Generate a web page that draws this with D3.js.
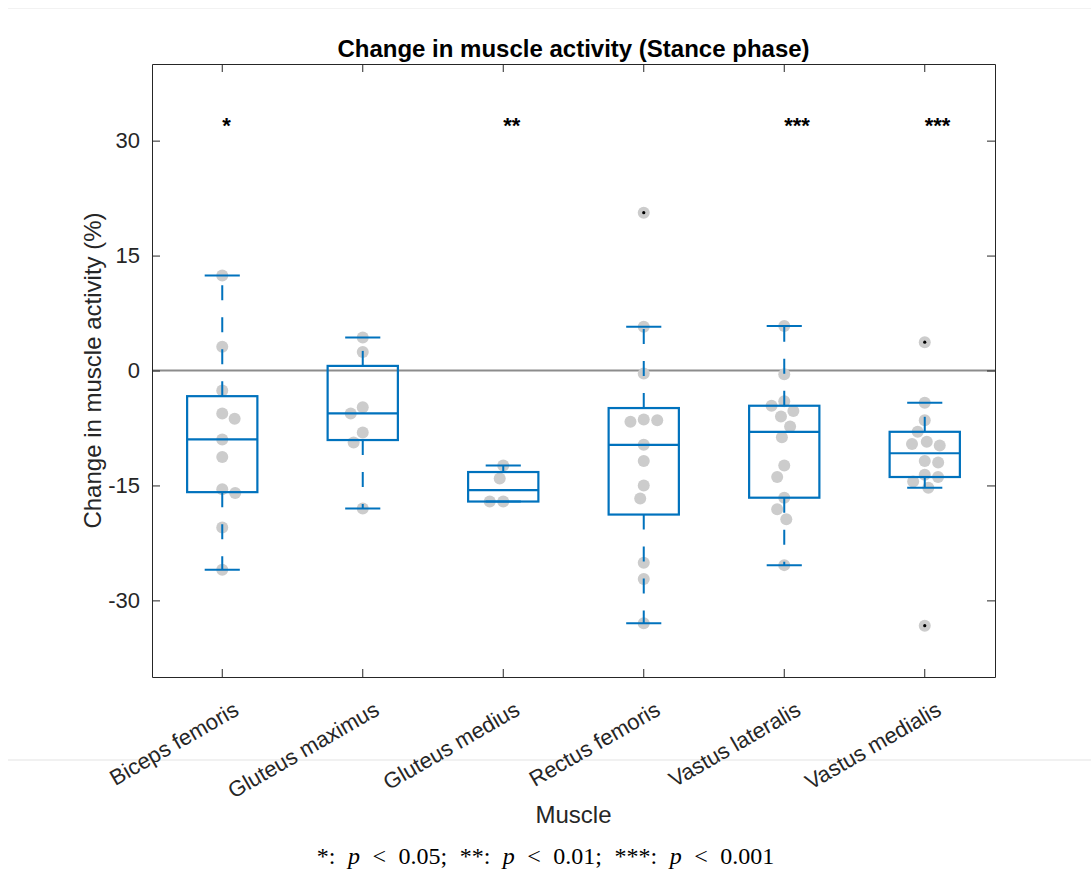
<!DOCTYPE html>
<meta charset="utf-8">
<script src="https://cdn.jsdelivr.net/npm/d3@7"></script>
<style>
  body { margin: 0; background: #fff; }
</style>
<div id="chart"></div>
<script>

// muscles and per-subject changes (%)
var muscles = ["Biceps femoris", "Gluteus maximus", "Gluteus medius", "Rectus femoris", "Vastus lateralis", "Vastus medialis"]
var bicepsFemoris = [12.4, 3.1, -2.6, -5.6, -6.3, -9.0, -11.3, -15.5, -16.0, -20.5, -26.0]
var gluteusMaximus = [4.3, 2.4, -4.8, -5.6, -8.1, -9.4, -18.0]
var gluteusMedius = [-12.4, -14.1, -17.1, -17.1]
var rectusFemoris = [20.6, 5.7, -0.4, -6.4, -6.5, -6.7, -9.7, -11.8, -15.0, -16.7, -25.1, -27.2, -33.0]
var vastusLateralis = [5.8, -0.5, -4.0, -4.6, -5.3, -6.0, -7.3, -8.7, -12.4, -13.9, -16.6, -18.1, -19.4, -25.4]
var vastusMedialis = [3.7, -4.2, -6.5, -8.0, -9.3, -9.6, -9.8, -11.8, -12.0, -13.6, -13.9, -14.5, -15.3, -33.3]
var significance = ["*", "", "**", "", "***", "***"]
var yTicks = [-30, -15, 0, 15, 30]

var groups = [bicepsFemoris, gluteusMaximus, gluteusMedius, rectusFemoris, vastusLateralis, vastusMedialis]

var width = 1091
var height = 896
var margin = {left: 152, right: 96, top: 64, bottom: 219}
var blue = "#0072BD"
var axisColor = "#262626"

var svg = d3.select("#chart").append("svg")
    .attr("width", width).attr("height", height)
    .style("font-family", "'Liberation Sans', Arial, sans-serif")

svg.append("rect").attr("width", width).attr("height", height).attr("fill", "white")

// faint page separators seen in the picture
svg.append("line").attr("x1", 8).attr("x2", width).attr("y1", 760).attr("y2", 760)
    .attr("stroke", "#e3e3e3").attr("stroke-width", 1)
svg.append("line").attr("x1", 8).attr("x2", width).attr("y1", 8.5).attr("y2", 8.5)
    .attr("stroke", "#f2f2f2").attr("stroke-width", 1)

var x = d3.scaleBand().domain(muscles).range([margin.left, width - margin.right]).padding(0)
var y = d3.scaleLinear().domain([-40, 40]).range([height - margin.bottom, margin.top])
var bw = x.bandwidth()
var cx = function(m){ return x(m) + bw / 2 }

// MATLAB style percentile
function prctile(sorted, p){
  var n = sorted.length
  var i = p * n + 0.5
  if (i <= 1) return sorted[0]
  if (i >= n) return sorted[n - 1]
  var lo = Math.floor(i)
  return sorted[lo - 1] + (i - lo) * (sorted[lo] - sorted[lo - 1])
}

var stats = groups.map(function(vals, gi){
  var s = vals.slice().sort(d3.ascending)
  var q1 = prctile(s, 0.25), q3 = prctile(s, 0.75), med = prctile(s, 0.5)
  var iqr = q3 - q1
  var inside = s.filter(function(v){ return v >= q1 - 1.5 * iqr && v <= q3 + 1.5 * iqr })
  return {muscle: muscles[gi], q1: q1, q3: q3, med: med,
          lo: d3.min(inside), hi: d3.max(inside),
          outliers: s.filter(function(v){ return v < q1 - 1.5 * iqr || v > q3 + 1.5 * iqr })}
})

// simple swarm: smallest horizontal offset that avoids earlier dots
var minDist = 13.5
var dots = []
groups.forEach(function(vals, gi){
  var placed = []
  vals.forEach(function(v, k){
    var py = y(v)
    var cands = [0]
    placed.forEach(function(p){
      var dy = Math.abs(p.py - py)
      if (dy < minDist) {
        var dx = Math.sqrt(minDist * minDist - dy * dy)
        cands.push(p.off + dx, p.off - dx)
      }
    })
    var ok = cands.filter(function(c){
      return placed.every(function(p){
        return Math.hypot(p.off - c, p.py - py) >= minDist - 0.01
      })
    })
    ok.sort(function(a, b){
      var d = Math.abs(a) - Math.abs(b)
      if (Math.abs(d) > 0.01) return d
      return (k % 2 ? a - b : b - a)
    })
    var off = ok[0]
    placed.push({py: py, off: off})
    dots.push({muscle: muscles[gi], value: v, off: off})
  })
})

// zero line
svg.append("line")
    .attr("x1", margin.left).attr("x2", width - margin.right)
    .attr("y1", y(0)).attr("y2", y(0))
    .attr("stroke", "#8c8c8c").attr("stroke-width", 2)

// points
svg.append("g")
  .selectAll("circle")
  .data(dots)
  .enter()
  .append("circle")
    .attr("cx", function(d){ return cx(d.muscle) + d.off })
    .attr("cy", function(d){ return y(d.value) })
    .attr("r", 6)
    .attr("fill", "#cccccc")

// boxes
var boxW = bw * 0.5, capW = bw * 0.25
var bg = svg.append("g").selectAll("g").data(stats).enter().append("g")

bg.append("line")
    .attr("x1", function(d){ return cx(d.muscle) }).attr("x2", function(d){ return cx(d.muscle) })
    .attr("y1", function(d){ return y(d.q3) }).attr("y2", function(d){ return y(d.hi) })
    .attr("stroke", blue).attr("stroke-width", 2).attr("stroke-dasharray", "15,17")
bg.append("line")
    .attr("x1", function(d){ return cx(d.muscle) }).attr("x2", function(d){ return cx(d.muscle) })
    .attr("y1", function(d){ return y(d.q1) }).attr("y2", function(d){ return y(d.lo) })
    .attr("stroke", blue).attr("stroke-width", 2).attr("stroke-dasharray", "15,17")
bg.append("line")
    .attr("x1", function(d){ return cx(d.muscle) - capW / 2 }).attr("x2", function(d){ return cx(d.muscle) + capW / 2 })
    .attr("y1", function(d){ return y(d.hi) }).attr("y2", function(d){ return y(d.hi) })
    .attr("stroke", blue).attr("stroke-width", 2)
bg.append("line")
    .attr("x1", function(d){ return cx(d.muscle) - capW / 2 }).attr("x2", function(d){ return cx(d.muscle) + capW / 2 })
    .attr("y1", function(d){ return y(d.lo) }).attr("y2", function(d){ return y(d.lo) })
    .attr("stroke", blue).attr("stroke-width", 2)
bg.append("rect")
    .attr("x", function(d){ return cx(d.muscle) - boxW / 2 })
    .attr("y", function(d){ return y(d.q3) })
    .attr("width", boxW)
    .attr("height", function(d){ return y(d.q1) - y(d.q3) })
    .attr("fill", "none").attr("stroke", blue).attr("stroke-width", 2.2)
bg.append("line")
    .attr("x1", function(d){ return cx(d.muscle) - boxW / 2 }).attr("x2", function(d){ return cx(d.muscle) + boxW / 2 })
    .attr("y1", function(d){ return y(d.med) }).attr("y2", function(d){ return y(d.med) })
    .attr("stroke", blue).attr("stroke-width", 2.2)
bg.selectAll(".out")
  .data(function(d){ return d.outliers.map(function(v){ return {muscle: d.muscle, value: v} }) })
  .enter()
  .append("circle")
    .attr("cx", function(d){ return cx(d.muscle) })
    .attr("cy", function(d){ return y(d.value) })
    .attr("r", 1.6)
    .attr("fill", "black")

// significance stars
svg.append("g")
  .selectAll("text")
  .data(muscles)
  .enter()
  .append("text")
    .attr("x", function(d){ return cx(d) })
    .attr("y", y(31))
    .text(function(d, i){ return significance[i] })
    .style("font-size", "22px")
    .style("font-weight", "bold")
    .attr("fill", "black")

// axes (ticks inside, box on)
var axLeft = svg.append("g").attr("transform", "translate(" + margin.left + ",0)")
    .call(d3.axisLeft(y).tickValues(yTicks).tickSize(-8).tickSizeOuter(0).tickPadding(12)
      .tickFormat(function(d){ return String(d) }))
var axRight = svg.append("g").attr("transform", "translate(" + (width - margin.right) + ",0)")
    .call(d3.axisRight(y).tickValues(yTicks).tickSize(-8).tickSizeOuter(0).tickFormat(""))
var axTop = svg.append("g").attr("transform", "translate(0," + margin.top + ")")
    .call(d3.axisTop(x).tickSize(-8).tickSizeOuter(0).tickFormat(""))
var axBottom = svg.append("g").attr("transform", "translate(0," + (height - margin.bottom) + ")")
    .call(d3.axisBottom(x).tickSize(-8).tickSizeOuter(0).tickFormat(""))

var axesAll = [axLeft, axRight, axTop, axBottom]
axesAll.forEach(function(a){
  a.select(".domain").attr("stroke", axisColor).attr("stroke-width", 1)
  a.selectAll(".tick line").attr("stroke", axisColor).attr("stroke-width", 1)
})
axLeft.selectAll("text").style("font-size", "22px").style("font-family", "'Liberation Sans', Arial, sans-serif")
    .attr("fill", axisColor)

// rotated category labels
svg.append("g")
  .selectAll("text")
  .data(muscles)
  .enter()
  .append("text")
    .attr("transform", function(d){ return "translate(" + (cx(d) + 18) + "," + (height - margin.bottom + 37) + ") rotate(-30)" })
    .attr("text-anchor", "end")
    .text(function(d){ return d })
    .style("font-size", "22px")
    .attr("fill", axisColor)

// titles
svg.append("text")
    .attr("x", (margin.left + width - margin.right) / 2).attr("y", 57)
    .attr("text-anchor", "middle")
    .style("font-size", "24px").style("font-weight", "bold")
    .attr("fill", "black")
    .text("Change in muscle activity (Stance phase)")

svg.append("text")
    .attr("x", (margin.left + width - margin.right) / 2).attr("y", 823)
    .attr("text-anchor", "middle")
    .style("font-size", "24px")
    .attr("fill", axisColor)
    .text("Muscle")

svg.append("text")
    .attr("transform", "translate(101," + ((margin.top + height - margin.bottom) / 2) + ") rotate(-90)")
    .attr("text-anchor", "middle")
    .style("font-size", "24px")
    .attr("fill", axisColor)
    .text("Change in muscle activity (%)")

// footnote (LaTeX-like)
var note = svg.append("text")
    .attr("x", width / 2).attr("y", 864)
    .attr("text-anchor", "middle")
    .style("font-family", "'Liberation Serif', 'DejaVu Serif', serif")
    .style("font-size", "24px")
    .style("word-spacing", "6.5px")
    .attr("fill", "black")
var parts = [["*: ", 0], ["p", 1], [" < 0.05; **: ", 0], ["p", 1], [" < 0.01; ***: ", 0], ["p", 1], [" < 0.001", 0]]
parts.forEach(function(p){
  note.append("tspan").text(p[0]).style("font-style", p[1] ? "italic" : "normal")
})

</script>
